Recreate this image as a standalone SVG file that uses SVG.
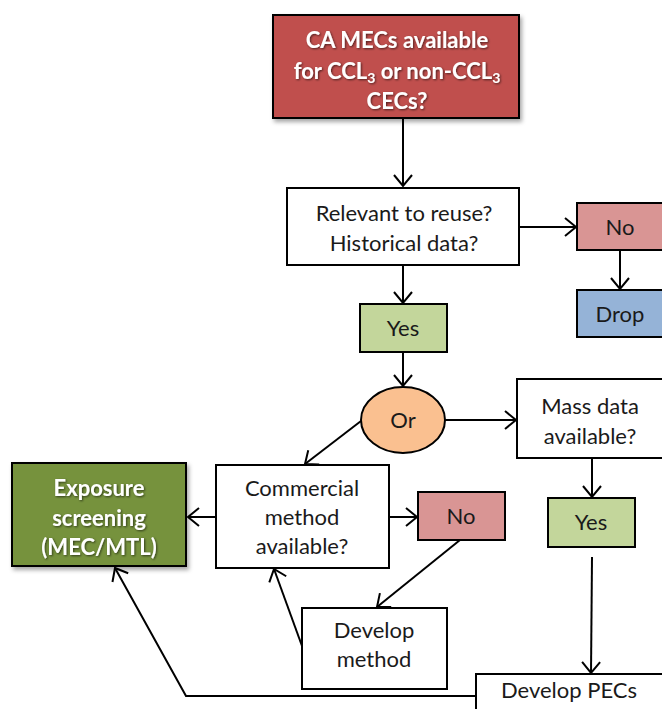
<svg xmlns="http://www.w3.org/2000/svg" width="662" height="709" viewBox="0 0 662 709">
<defs>
<marker id="arr" markerUnits="userSpaceOnUse" markerWidth="26" markerHeight="26" viewBox="-13 -13 26 26" refX="0" refY="0" orient="auto">
<path d="M-11,-9 L0,0 L-11,9" fill="none" stroke="#000" stroke-width="2"/>
</marker>
<filter id="sh" x="-10%" y="-10%" width="125%" height="125%">
<feDropShadow dx="2" dy="3" stdDeviation="2" flood-color="#000" flood-opacity="0.35"/>
</filter>
<filter id="tsh" x="-10%" y="-20%" width="120%" height="150%">
<feDropShadow dx="1" dy="1" stdDeviation="0.8" flood-color="#000" flood-opacity="0.6"/>
</filter>
</defs>
<style>
.box{stroke:#000;stroke-width:2}
.t{font-family:Lato,"Liberation Sans",sans-serif;font-size:22px;fill:#1a1a1a;text-anchor:middle}
.w{font-family:Lato,"Liberation Sans",sans-serif;font-size:22px;font-weight:bold;fill:#fff;text-anchor:middle;filter:url(#tsh)}
.c{fill:none;stroke:#000;stroke-width:2;marker-end:url(#arr)}
</style>
<rect width="662" height="709" fill="#fff"/>

<g id="n-top">
<rect class="box" x="273" y="15" width="246" height="103" fill="#C0504D" filter="url(#sh)"/>
<text class="w" x="397" y="48">CA MECs available</text>
<text class="w" x="397" y="79">for CCL<tspan font-size="14" dy="4">3</tspan><tspan dy="-4"> or non-CCL</tspan><tspan font-size="14" dy="4">3</tspan></text>
<text class="w" x="397" y="109">CECs?</text>
</g>

<g id="n-relevant">
<rect class="box" x="287" y="188" width="232" height="77" fill="#fff"/>
<text class="t" x="404" y="221">Relevant to reuse?</text>
<text class="t" x="404" y="251">Historical data?</text>
</g>

<g id="n-no1">
<rect class="box" x="577" y="203" width="90" height="47" fill="#D99594"/>
<text class="t" x="620" y="235">No</text>
</g>

<g id="n-drop">
<rect class="box" x="577" y="290" width="90" height="47" fill="#95B3D7"/>
<text class="t" x="620" y="322">Drop</text>
</g>

<g id="n-yes1">
<rect class="box" x="360" y="304" width="87" height="48" fill="#C3D69B"/>
<text class="t" x="403" y="336">Yes</text>
</g>

<g id="n-or">
<ellipse class="box" cx="403" cy="420" rx="42" ry="33" fill="#FAC090"/>
<text class="t" x="403" y="428">Or</text>
</g>

<g id="n-mass">
<rect class="box" x="517" y="379" width="150" height="79" fill="#fff"/>
<text class="t" x="590" y="414">Mass data</text>
<text class="t" x="590" y="444">available?</text>
</g>

<g id="n-yes2">
<rect class="box" x="548" y="498" width="87" height="49" fill="#C3D69B"/>
<text class="t" x="591" y="530">Yes</text>
</g>

<g id="n-commercial">
<rect class="box" x="216" y="465" width="173" height="103" fill="#fff"/>
<text class="t" x="302" y="496">Commercial</text>
<text class="t" x="302" y="525">method</text>
<text class="t" x="302" y="554">available?</text>
</g>

<g id="n-exposure">
<rect class="box" x="12" y="463" width="174" height="103" fill="#76923C" filter="url(#sh)"/>
<text class="w" x="99" y="496">Exposure</text>
<text class="w" x="99" y="526">screening</text>
<text class="w" x="99" y="555">(MEC/MTL)</text>
</g>

<g id="n-no2">
<rect class="box" x="418" y="492" width="87" height="48" fill="#D99594"/>
<text class="t" x="461" y="524">No</text>
</g>

<g id="n-devmethod">
<rect class="box" x="302" y="608" width="145" height="81" fill="#fff"/>
<text class="t" x="374" y="638">Develop</text>
<text class="t" x="374" y="667">method</text>
</g>

<g id="n-devpecs">
<rect class="box" x="476" y="674" width="200" height="50" fill="#fff"/>
<text class="t" x="569" y="698">Develop PECs</text>
</g>

<g id="connectors">
<path class="c" d="M403,118 L403,186"/>
<path class="c" d="M519,227 L576,227"/>
<path class="c" d="M620,250 L620,289"/>
<path class="c" d="M403,265 L403,303"/>
<path class="c" d="M403,352 L403,386"/>
<path class="c" d="M445,420 L516,420"/>
<path class="c" d="M361,421 L305,464"/>
<path class="c" d="M592,458 L592,497"/>
<path class="c" d="M592,557 L591,673"/>
<path class="c" d="M216,517 L188,517"/>
<path class="c" d="M389,517 L417,517"/>
<path class="c" d="M460,540 L377,607"/>
<path class="c" d="M302,646 L274,569"/>
<path class="c" d="M476,696 L186,696 L115,568"/>
</g>
</svg>
